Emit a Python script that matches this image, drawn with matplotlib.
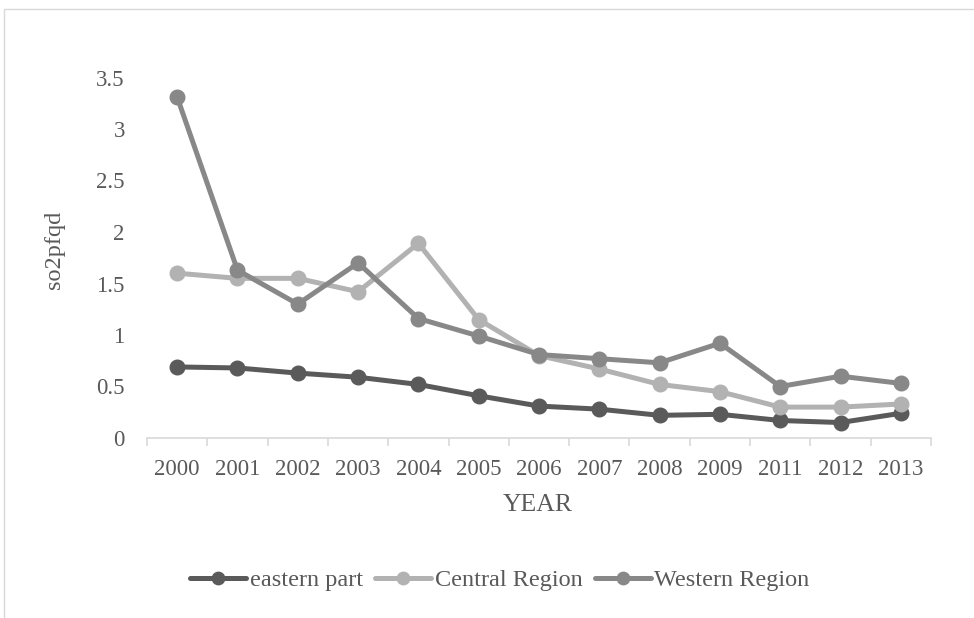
import matplotlib
matplotlib.use("Agg")
import matplotlib.pyplot as plt
from matplotlib.patches import Rectangle
import numpy as np

years = ["2000", "2001", "2002", "2003", "2004", "2005", "2006",
         "2007", "2008", "2009", "2011", "2012", "2013"]
eastern = [0.69, 0.68, 0.63, 0.59, 0.52, 0.41, 0.31, 0.28, 0.22, 0.23, 0.17, 0.15, 0.24]
central = [1.60, 1.55, 1.55, 1.42, 1.89, 1.15, 0.80, 0.67, 0.52, 0.45, 0.30, 0.30, 0.33]
western = [3.31, 1.63, 1.30, 1.70, 1.16, 0.99, 0.81, 0.77, 0.73, 0.92, 0.50, 0.60, 0.53]
series_names = ["eastern part", "Central Region", "Western Region"]
y_ticks = [0, 0.5, 1, 1.5, 2, 2.5, 3, 3.5]
y_tick_labels = ["0", "0.5", "1", "1.5", "2", "2.5", "3", "3.5"]

plt.rcParams["font.family"] = ["Liberation Serif", "DejaVu Serif"]
text_color = "#595959"
grid_color = "#d9d9d9"
colors = ["#5a5a5a", "#b2b2b2", "#888888"]

fig = plt.figure(figsize=(9.74, 6.18), dpi=100)
fig.patch.set_facecolor("white")

# outer chart border (left and top edges visible)
fig.patches.append(Rectangle((4 / 974, -0.1), 1.2, 1 - 9 / 618 + 0.1,
                             transform=fig.transFigure, fill=False,
                             edgecolor=grid_color, linewidth=1.0))

ax = fig.add_axes([147 / 974, 1 - 438 / 618, (931 - 147) / 974, (438 - 77.5) / 618])
x = np.arange(len(years))

for vals, name, c in zip([eastern, central, western], series_names, colors):
    ax.plot(x, vals, color=c, linewidth=3.6, marker="o", markersize=10.5,
            markeredgecolor=c, markerfacecolor=c, label=name,
            solid_capstyle="round", clip_on=False)

ax.set_xlim(-0.5, len(years) - 0.5)
ax.set_ylim(0, 3.5)
ax.set_yticks(y_ticks)
ax.set_yticklabels(y_tick_labels)
ax.set_xticks(x)
ax.set_xticklabels(years)
ax.set_xticks(np.arange(-0.5, len(years), 1.0), minor=True)

for s in ["top", "right", "left"]:
    ax.spines[s].set_visible(False)
ax.spines["bottom"].set_color(grid_color)
ax.spines["bottom"].set_linewidth(1.2)

ax.tick_params(axis="y", length=0, pad=16, labelsize=16.5, labelcolor=text_color)
ax.tick_params(axis="x", which="major", length=0, pad=15, labelsize=16.5, labelcolor=text_color)
ax.tick_params(axis="x", which="minor", length=6, width=1.2, color=grid_color, direction="out")

fig.text(55 / 974, 1 - 250 / 618, "so2pfqd", rotation=90, ha="center", va="center",
         fontsize=17.5, color=text_color)
fig.text(538 / 974, 1 - 505 / 618, "YEAR", ha="center", va="center",
         fontsize=18.5, color=text_color)

leg = ax.legend(loc="center", bbox_to_anchor=(500 / 974, 1 - 580 / 618),
                bbox_transform=fig.transFigure, ncol=3, frameon=False,
                fontsize=17.5, handlelength=2.3, handletextpad=0.15,
                columnspacing=0.5, labelcolor=text_color, markerscale=0.85)

fig.savefig("out.png", dpi=100, facecolor="white")
